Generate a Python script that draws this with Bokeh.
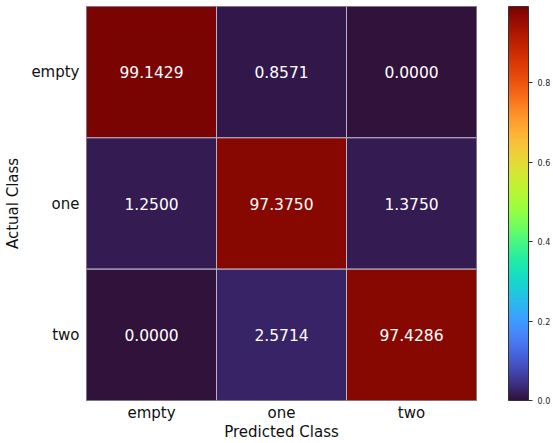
from bokeh.plotting import figure
from bokeh.models import LinearColorMapper, ColorBar, ColumnDataSource, FixedTicker, PrintfTickFormatter
from bokeh.palettes import Turbo256
from bokeh.embed import file_html
from bokeh.resources import INLINE
from bokeh.core.properties import value

classes = ["empty", "one", "two"]
actual = ["empty", "empty", "empty", "one", "one", "one", "two", "two", "two"]
predicted = ["empty", "one", "two", "empty", "one", "two", "empty", "one", "two"]
percent = [99.1429, 0.8571, 0.0000, 1.2500, 97.3750, 1.3750, 0.0000, 2.5714, 97.4286]
cbar_ticks = [0.0, 0.2, 0.4, 0.6, 0.8]

frac = [v / 100.0 for v in percent]
labels = ["%.4f" % v for v in percent]
src = ColumnDataSource(dict(x=predicted, y=actual, frac=frac, label=labels))

mapper = LinearColorMapper(palette=Turbo256, low=min(frac), high=max(frac))

p = figure(width=553, height=443, x_range=classes, y_range=list(reversed(classes)),
           output_backend="svg", toolbar_location=None,
           min_border_left=86, min_border_top=6, min_border_bottom=43, min_border_right=75)

p.rect(x="x", y="y", width=1, height=1, source=src,
       fill_color={"field": "frac", "transform": mapper},
       line_color="#b8b4c8", line_width=1)

p.text(x="x", y="y", text="label", source=src, text_color="white",
       text_align="center", text_baseline="middle",
       text_font=value("DejaVu Sans"), text_font_size="15.5px")

for ax in (p.xaxis, p.yaxis):
    ax.axis_line_color = None
    ax.major_tick_line_color = None
    ax.minor_tick_line_color = None
    ax.major_tick_out = 0
    ax.major_tick_in = 0
    ax.minor_tick_out = 0
    ax.minor_tick_in = 0
    ax.major_label_text_font = "DejaVu Sans"
    ax.major_label_text_font_size = "15px"
    ax.major_label_text_color = "#111111"
    ax.axis_label_text_font = "DejaVu Sans"
    ax.axis_label_text_font_size = "15px"
    ax.axis_label_text_font_style = "normal"
    ax.axis_label_text_color = "#111111"

p.xaxis.axis_label = "Predicted Class"
p.yaxis.axis_label = "Actual Class"
p.xaxis.major_label_standoff = 3
p.yaxis.major_label_standoff = 7
p.xaxis.axis_label_standoff = -2
p.yaxis.axis_label_standoff = 6
p.grid.grid_line_color = None
p.outline_line_color = "#444444"

cb = ColorBar(color_mapper=mapper, ticker=FixedTicker(ticks=cbar_ticks),
              formatter=PrintfTickFormatter(format="%.1f"),
              width=20, padding=0, margin=0, location=(32, 0),
              major_label_text_font_size="8px", major_label_text_font="DejaVu Sans",
              major_label_text_color="#222222",
              major_tick_out=4, major_tick_in=0, major_tick_line_color="#333333",
              bar_line_color="#333333", border_line_color=None,
              background_fill_color=None)
p.add_layout(cb, "right")

open("out.html", "w").write(file_html(p, INLINE))
